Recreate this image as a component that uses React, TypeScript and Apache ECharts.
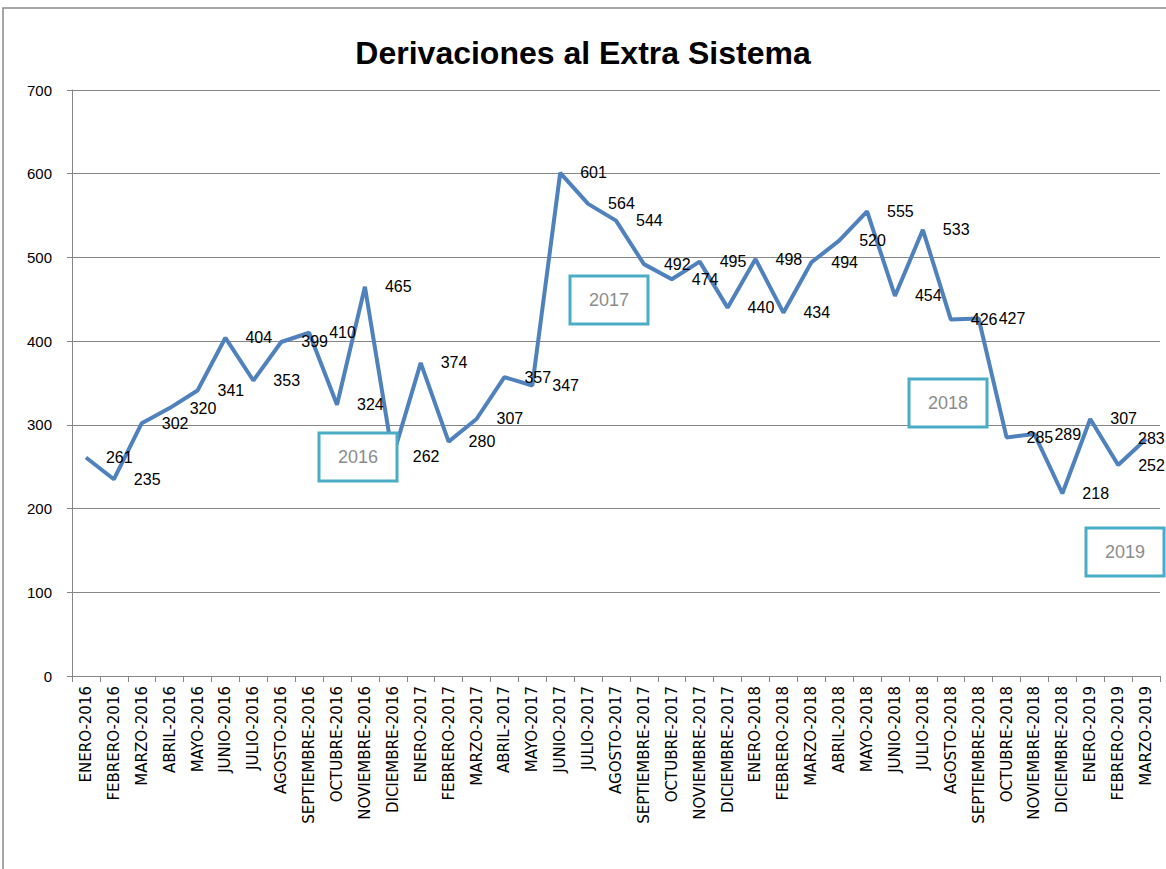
import React, { useEffect, useRef } from "react";
import * as echarts from "echarts";

const TITLE = "Derivaciones al Extra Sistema";

const CATEGORIES = [
  "ENERO-2016", "FEBRERO-2016", "MARZO-2016", "ABRIL-2016", "MAYO-2016", "JUNIO-2016",
  "JULIO-2016", "AGOSTO-2016", "SEPTIEMBRE-2016", "OCTUBRE-2016", "NOVIEMBRE-2016", "DICIEMBRE-2016",
  "ENERO-2017", "FEBRERO-2017", "MARZO-2017", "ABRIL-2017", "MAYO-2017", "JUNIO-2017",
  "JULIO-2017", "AGOSTO-2017", "SEPTIEMBRE-2017", "OCTUBRE-2017", "NOVIEMBRE-2017", "DICIEMBRE-2017",
  "ENERO-2018", "FEBRERO-2018", "MARZO-2018", "ABRIL-2018", "MAYO-2018", "JUNIO-2018",
  "JULIO-2018", "AGOSTO-2018", "SEPTIEMBRE-2018", "OCTUBRE-2018", "NOVIEMBRE-2018", "DICIEMBRE-2018",
  "ENERO-2019", "FEBRERO-2019", "MARZO-2019",
];

const VALUES = [
  261, 235, 302, 320, 341, 404, 353, 399, 410, 324, 465, 262,
  374, 280, 307, 357, 347, 601, 564, 544, 492, 474, 495, 440,
  498, 434, 494, 520, 555, 454, 533, 426, 427, 285, 289, 218,
  307, 252, 283,
];

const Y_MIN = 0;
const Y_MAX = 700;
const Y_INTERVAL = 100;

const YEAR_LABELS = ["2016", "2017", "2018", "2019"];

export default function App() {
  const ref = useRef<HTMLDivElement>(null);

  useEffect(() => {
    if (!ref.current) return;
    const chart = echarts.init(ref.current, undefined, { renderer: "svg" });

    const boxPos = [
      [319, 433],
      [570, 276],
      [909, 379],
      [1086, 528],
    ];

    const yearBoxes = YEAR_LABELS.map((t, i) => ({
      type: "group",
      x: boxPos[i][0],
      y: boxPos[i][1],
      z: 100,
      children: [
        {
          type: "rect",
          shape: { x: 0, y: 0, width: 78, height: 48 },
          style: { fill: "#fff", stroke: "#4BACC6", lineWidth: 3 },
          z: 100,
        },
        {
          type: "text",
          x: 39,
          y: 24,
          style: {
            text: t,
            fill: "#8c8c8c",
            font: "18px 'Liberation Sans', Arial, sans-serif",
            align: "center",
            verticalAlign: "middle",
          },
          z: 101,
        },
      ],
    }));

    const lastIdx = VALUES.length - 1;
    const seriesData = VALUES.map((v, i) =>
      i === lastIdx
        ? { value: v, label: { position: [-8, -9] } }
        : v
    );

    chart.setOption({
      animation: false,
      backgroundColor: "#fff",
      title: {
        text: TITLE,
        left: "center",
        top: 32,
        textStyle: {
          fontFamily: "'Liberation Sans', Arial, sans-serif",
          fontWeight: "bold",
          fontSize: 32,
          color: "#000",
        },
      },
      grid: { left: 72, right: 6, top: 90, bottom: 193 },
      xAxis: {
        type: "category",
        data: CATEGORIES,
        boundaryGap: true,
        axisLine: { show: true, lineStyle: { color: "#868686", width: 1 } },
        axisTick: { show: true, alignWithLabel: false, length: 6, lineStyle: { color: "#868686" } },
        axisLabel: {
          rotate: 90,
          interval: 0,
          margin: 10,
          color: "#000",
          fontSize: 15,
          fontFamily: "'DejaVu Sans', Verdana, sans-serif",
        },
        splitLine: { show: false },
      },
      yAxis: {
        type: "value",
        min: Y_MIN,
        max: Y_MAX,
        interval: Y_INTERVAL,
        axisLine: { show: true, lineStyle: { color: "#868686", width: 1 } },
        axisTick: { show: true, length: 5, lineStyle: { color: "#868686" } },
        axisLabel: {
          margin: 20,
          color: "#000",
          fontSize: 15,
          fontFamily: "'Liberation Sans', Arial, sans-serif",
        },
        splitLine: { show: true, lineStyle: { color: "#868686", width: 1 } },
      },
      series: [
        {
          type: "line",
          data: seriesData,
          showSymbol: true,
          symbol: "circle",
          symbolSize: 0,
          lineStyle: { color: "#4F81BD", width: 4 },
          itemStyle: { color: "#4F81BD" },
          label: {
            show: true,
            position: "right",
            distance: 20,
            color: "#000",
            fontSize: 16,
            fontFamily: "'Liberation Sans', Arial, sans-serif",
          },
          labelLayout: { hideOverlap: false },
          z: 3,
        },
      ],
      graphic: [
        {
          type: "rect",
          shape: { x: 3, y: 8, width: 1200, height: 900 },
          style: { fill: "none", stroke: "#8a8a8a", lineWidth: 1.5 },
          silent: true,
        },
        ...yearBoxes,
      ],
    });

    return () => chart.dispose();
  }, []);

  return (
    <div
      ref={ref}
      style={{ position: "fixed", left: 0, top: 0, width: 1166, height: 869 }}
    />
  );
}
